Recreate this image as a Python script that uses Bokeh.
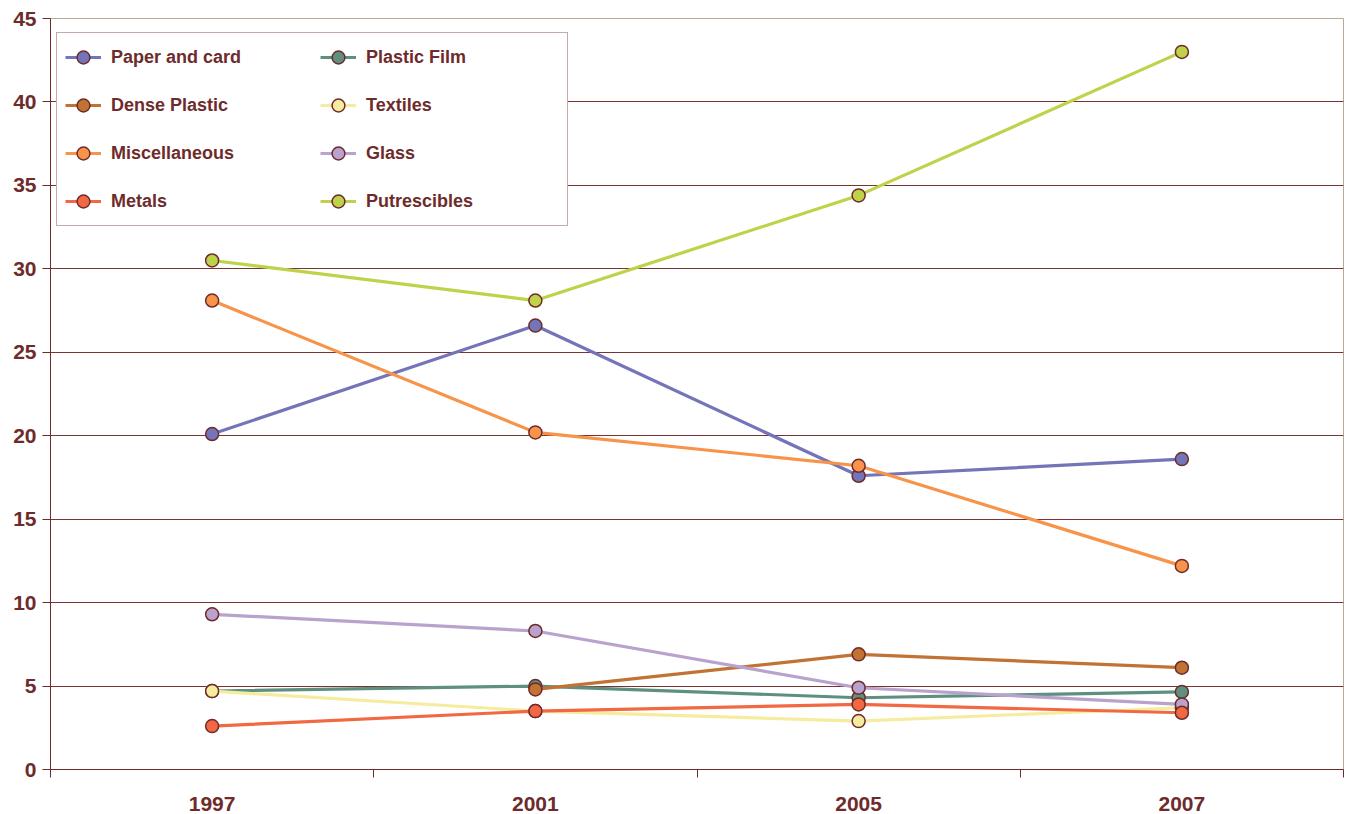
import numpy as np
from bokeh.plotting import figure
from bokeh.models import Range1d, FixedTicker, Legend, LegendItem
from bokeh.embed import file_html
from bokeh.resources import INLINE

years = ["1997", "2001", "2005", "2007"]
series_names = ["Paper and card", "Plastic Film", "Dense Plastic", "Textiles",
                "Miscellaneous", "Glass", "Metals", "Putrescibles"]
paper = [20.1, 26.6, 17.6, 18.6]
plastic_film = [4.7, 5.0, 4.3, 4.65]
dense_plastic = [np.nan, 4.8, 6.9, 6.1]
textiles = [4.7, 3.5, 2.9, 3.7]
misc = [28.1, 20.2, 18.2, 12.2]
glass = [9.3, 8.3, 4.9, 3.9]
metals = [2.6, 3.5, 3.9, 3.4]
putrescibles = [30.5, 28.1, 34.4, 43.0]
y_ticks = [0, 5, 10, 15, 20, 25, 30, 35, 40, 45]

values = [paper, plastic_film, dense_plastic, textiles, misc, glass, metals, putrescibles]
colors = ["#7474b8", "#5e9080", "#c27232", "#f6eca0", "#f7944a", "#b9a2cd", "#f26842", "#bed24a"]

MAROON = "#6e2b2b"
FONT = "Liberation Sans"

xpos = [i + 0.5 for i in range(len(years))]

p = figure(width=1348, height=814, output_backend="svg", toolbar_location=None,
           x_range=Range1d(0, len(years)), y_range=Range1d(0, 45),
           min_border_left=50, min_border_right=5, min_border_top=18, min_border_bottom=45)

p.outline_line_color = "#b8a898"
p.background_fill_color = "white"
p.border_fill_color = "white"

renderers = {}
for name, vals, col in zip(series_names, values, colors):
    r1 = p.line(xpos, vals, line_color=col, line_width=3.2)
    r2 = p.scatter(xpos, vals, size=13, fill_color=col, line_color=MAROON, line_width=1.5)
    renderers[name] = [r1, r2]

# axes
p.xaxis.ticker = FixedTicker(ticks=xpos, minor_ticks=list(range(len(years) + 1)))
p.xaxis.major_label_overrides = {x: y for x, y in zip(xpos, years)}
p.xaxis.major_tick_line_color = None
p.xaxis.minor_tick_line_color = MAROON
p.xaxis.minor_tick_out = 8
p.xaxis.minor_tick_in = 0
p.xaxis.axis_line_color = MAROON
p.xaxis.major_label_standoff = 19

p.yaxis.ticker = FixedTicker(ticks=y_ticks)
p.yaxis.major_tick_line_color = MAROON
p.yaxis.major_tick_out = 8
p.yaxis.major_tick_in = 0
p.yaxis.minor_tick_line_color = None
p.yaxis.axis_line_color = MAROON
p.yaxis.major_label_standoff = 6

for ax in (p.xaxis, p.yaxis):
    ax.major_label_text_font = FONT
    ax.major_label_text_font_style = "bold"
    ax.major_label_text_font_size = "21px"
    ax.major_label_text_color = MAROON

p.xgrid.grid_line_color = None
p.ygrid.ticker = FixedTicker(ticks=y_ticks[1:-1])
p.ygrid.grid_line_color = "#7a3333"
p.ygrid.grid_line_width = 1

items = [LegendItem(label=n, renderers=renderers[n]) for n in series_names]
legend = Legend(items=items, location=(6, 543), orientation="horizontal", ncols=2,
                glyph_width=36, glyph_height=32, label_height=32, label_width=193,
                label_standoff=10, spacing=16, padding=8, margin=0,
                label_text_font=FONT, label_text_font_style="bold",
                label_text_font_size="18px", label_text_color=MAROON,
                border_line_color="#8a5555", border_line_width=1,
                background_fill_color="white", background_fill_alpha=1)
p.add_layout(legend, "center")

open("out.html", "w").write(file_html(p, INLINE))
